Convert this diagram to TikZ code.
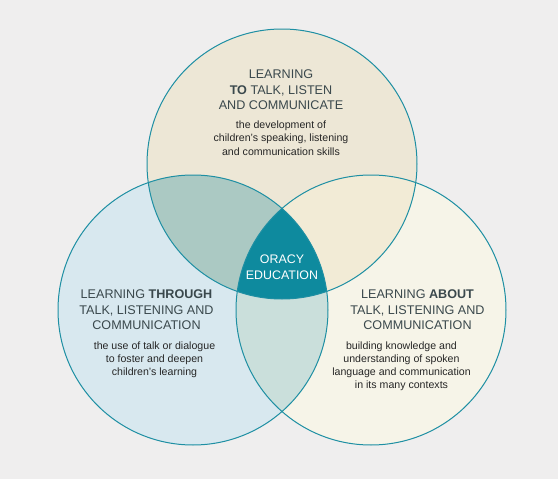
\documentclass[tikz,border=0pt]{standalone}
\usepackage{fontspec}
\setmainfont{Liberation Sans}
\definecolor{bg}{RGB}{239,238,238}
\definecolor{topc}{RGB}{237,231,214}
\definecolor{leftc}{RGB}{216,232,239}
\definecolor{rightc}{RGB}{246,244,232}
\definecolor{tlc}{RGB}{171,201,195}
\definecolor{trc}{RGB}{242,235,214}
\definecolor{lrc}{RGB}{202,223,219}
\definecolor{centc}{RGB}{14,138,158}
\definecolor{strokec}{RGB}{30,143,163}
\definecolor{headc}{RGB}{58,72,76}
\definecolor{bodyc}{RGB}{38,38,38}
\tikzset{
  head/.style={font=\fontsize{12.6}{15}\selectfont, text=headc, inner sep=0pt, anchor=base},
  body/.style={font=\fontsize{10.6}{13}\selectfont, text=bodyc, inner sep=0pt, anchor=base},
  cent/.style={font=\fontsize{12.4}{15}\selectfont, text=white, inner sep=0pt, anchor=base},
  ring/.style={draw=strokec, line width=1pt}
}
\begin{document}
\begin{tikzpicture}[x=1pt,y=-1pt]
\fill[bg] (0,0) rectangle (558,479);
\useasboundingbox (0,0) rectangle (558,479);
\def\R{135}
\coordinate (ct) at (282,164);
\coordinate (cl) at (193,310);
\coordinate (cr) at (371,310);
% base fills
\fill[topc] (ct) circle (\R);
\fill[leftc] (cl) circle (\R);
\fill[rightc] (cr) circle (\R);
% pairwise overlaps
\begin{scope}
  \clip (ct) circle (\R);
  \fill[tlc] (cl) circle (\R);
  \fill[trc] (cr) circle (\R);
\end{scope}
\begin{scope}
  \clip (cl) circle (\R);
  \fill[lrc] (cr) circle (\R);
\end{scope}
\begin{scope}
  \clip (ct) circle (\R);
  \clip (cl) circle (\R);
  \fill[centc] (cr) circle (\R);
\end{scope}
% outlines
\draw[ring] (ct) circle (\R);
\draw[ring] (cl) circle (\R);
\draw[ring] (cr) circle (\R);
% top circle text
\node[head] (t1) at (281,78) {LEARNING};
\node[head] (t2) at (281,94) {\textbf{TO} TALK, LISTEN};
\node[head] (t3) at (281,109.5) {AND COMMUNICATE};
\node[body] (t4) at (281,128) {the development of};
\node[body] (t5) at (281,141.5) {children’s speaking, listening};
\node[body] (t6) at (281,155) {and communication skills};
% left circle text
\node[head] (l1) at (146.5,298.5) {LEARNING \textbf{THROUGH}};
\node[head] (l2) at (146.5,314) {TALK, LISTENING AND};
\node[head] (l3) at (146.5,329.5) {COMMUNICATION};
\node[body] (l4) at (154.5,349) {the use of talk or dialogue};
\node[body] (l5) at (154.5,362) {to foster and deepen};
\node[body] (l6) at (154.5,375) {children’s learning};
% right circle text
\node[head] (r1) at (417.5,298.5) {LEARNING \textbf{ABOUT}};
\node[head] (r2) at (417.5,314) {TALK, LISTENING AND};
\node[head] (r3) at (417.5,329.5) {COMMUNICATION};
\node[body] (r4) at (401.5,349) {building knowledge and};
\node[body] (r5) at (401.5,362) {understanding of spoken};
\node[body] (r6) at (401.5,375) {language and communication};
\node[body] (r7) at (401.5,388) {in its many contexts};
% centre
\node[cent] (c1) at (282,263.5) {ORACY};
\node[cent] (c2) at (282,279) {EDUCATION};
\end{tikzpicture}
\end{document}
